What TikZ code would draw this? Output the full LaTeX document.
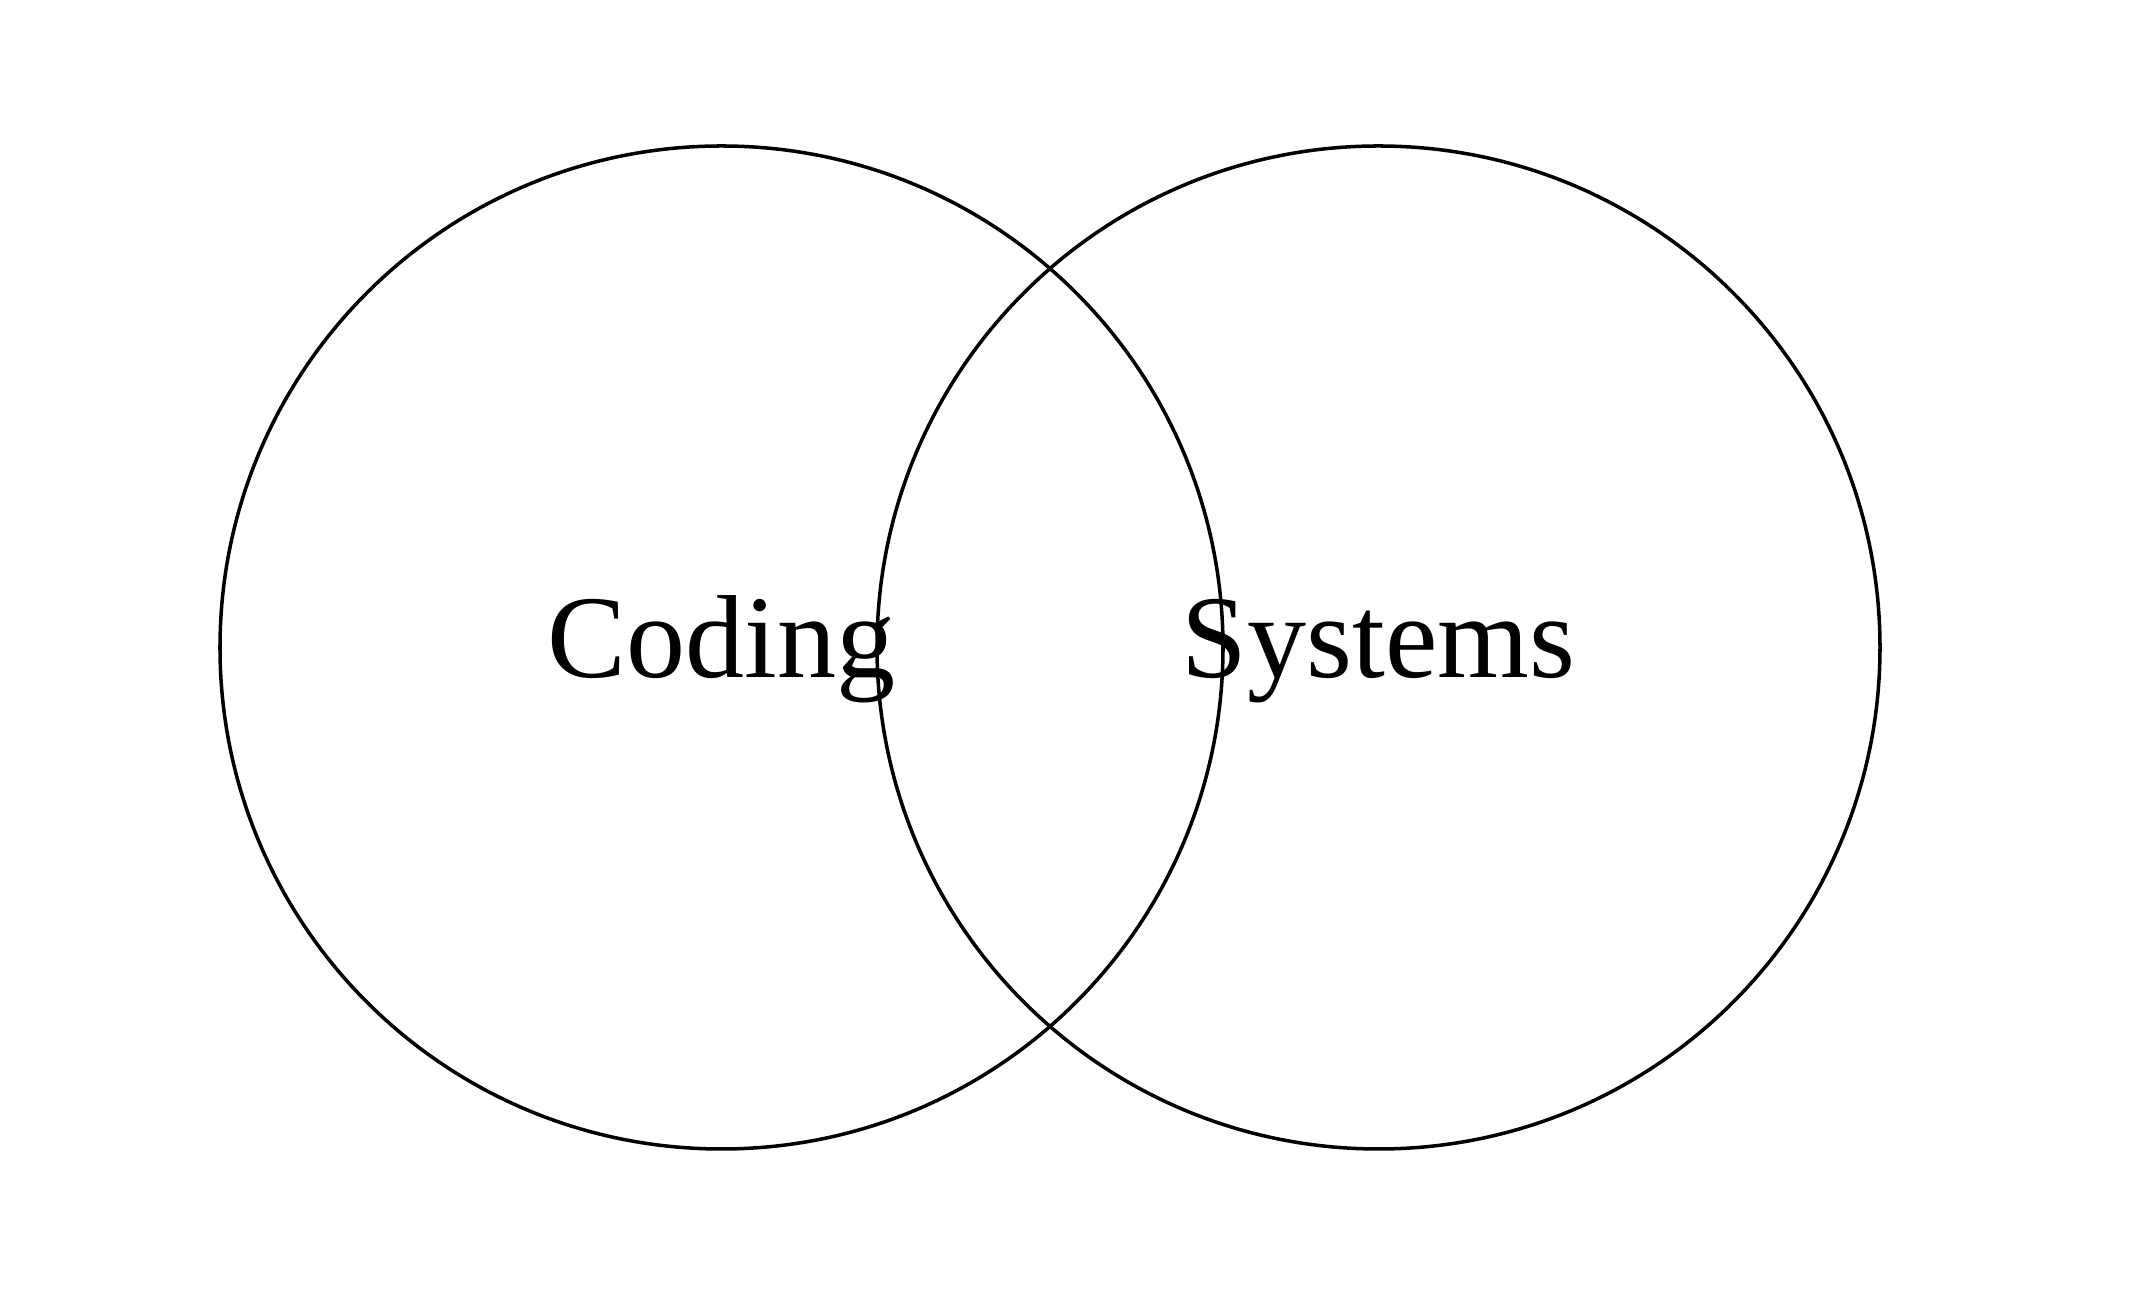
\documentclass[tikz,border=0pt]{standalone}
\usepackage{fontspec}
\setmainfont{Liberation Serif}
\usepackage{tikz}
\usetikzlibrary{positioning}
\tikzset{set/.style={draw, circle, line width=1pt, minimum size=10.03cm, inner sep=0pt}}
\tikzset{setname/.style={anchor=base, inner sep=0pt, font=\fontsize{33.6}{40}\selectfont}}

\begin{document}
\begin{tikzpicture}
\useasboundingbox (0,0) rectangle (21.32,12.96);

\node[set] (coding) at (7.215,6.485) {};
\node[set] (systems) at (13.785,6.485) {};

\node[setname] (codingtext) at ([yshift=-0.3cm]coding.center) {Coding};
\node[setname] (systemstext) at ([yshift=-0.3cm]systems.center) {Systems};
\end{tikzpicture}
\end{document}
